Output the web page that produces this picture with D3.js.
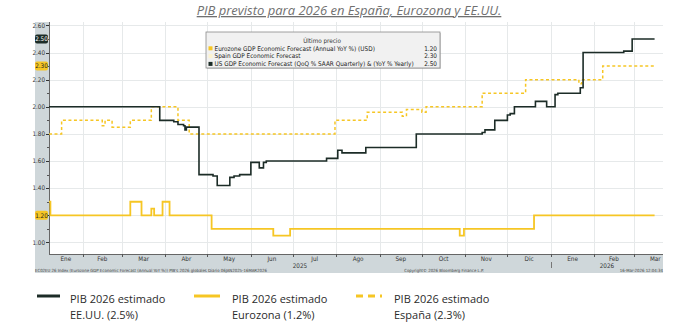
<!DOCTYPE html>
<html>
<head>
<meta charset="utf-8">
<script src="https://cdn.jsdelivr.net/npm/d3@7"></script>
<style>
  body { margin: 0; background: #fff; }
  svg { display: block; }
</style>
</head>
<body>
<div id="chart"></div>
<script>
// Series: [date of change, value] (step series)
const usSeries = [
  ["2025-01-08", 2.00], ["2025-03-28", 1.90], ["2025-04-07", 1.89], ["2025-04-10", 1.87],
  ["2025-04-14", 1.86], ["2025-04-15", 1.83], ["2025-04-16", 1.85], ["2025-04-25", 1.50],
  ["2025-05-05", 1.49], ["2025-05-08", 1.42], ["2025-05-17", 1.48], ["2025-05-20", 1.49],
  ["2025-05-24", 1.50], ["2025-06-01", 1.59], ["2025-06-07", 1.55], ["2025-06-10", 1.59],
  ["2025-06-12", 1.60], ["2025-07-25", 1.62], ["2025-08-02", 1.68], ["2025-08-05", 1.66],
  ["2025-08-22", 1.70], ["2025-09-27", 1.80], ["2025-11-13", 1.81], ["2025-11-15", 1.83],
  ["2025-11-22", 1.90], ["2025-12-01", 1.94], ["2025-12-03", 1.95], ["2025-12-06", 2.00],
  ["2025-12-21", 2.04], ["2025-12-29", 2.00], ["2026-01-04", 2.09], ["2026-01-06", 2.10],
  ["2026-01-22", 2.14], ["2026-01-24", 2.40], ["2026-02-22", 2.41], ["2026-02-28", 2.50],
  ["2026-03-16", 2.50]
];
const euroSeries = [
  ["2025-01-08", 1.30], ["2025-01-09", 1.20], ["2025-03-07", 1.30], ["2025-03-15", 1.20],
  ["2025-03-22", 1.25], ["2025-03-24", 1.20], ["2025-03-30", 1.30], ["2025-04-04", 1.20],
  ["2025-05-04", 1.10], ["2025-06-17", 1.05], ["2025-06-29", 1.10], ["2025-10-28", 1.05],
  ["2025-10-31", 1.10], ["2025-12-20", 1.20], ["2026-03-16", 1.20]
];
const spainSeries = [
  ["2025-01-08", 1.80], ["2025-01-17", 1.90], ["2025-02-15", 1.86], ["2025-02-17", 1.90],
  ["2025-02-22", 1.85], ["2025-03-07", 1.90], ["2025-03-22", 2.00], ["2025-04-10", 1.90],
  ["2025-04-18", 1.80], ["2025-07-31", 1.90], ["2025-08-23", 1.96], ["2025-09-17", 1.93],
  ["2025-09-20", 1.98], ["2025-10-01", 1.96], ["2025-10-04", 2.00], ["2025-11-13", 2.10],
  ["2025-12-14", 2.20], ["2026-01-21", 2.17], ["2026-01-23", 2.20], ["2026-02-07", 2.30],
  ["2026-03-16", 2.30]
];

const yTicks = [1.0, 1.2, 1.4, 1.6, 1.8, 2.0, 2.2, 2.4, 2.6];
const monthNames = ["Ene", "Feb", "Mar", "Abr", "May", "Jun", "Jul", "Ago", "Sep", "Oct", "Nov", "Dic"];
const lastValues = [
  { label: "Eurozone GDP Economic Forecast (Annual YoY %) (USD)", value: "1.20", key: "euro" },
  { label: "Spain GDP Economic Forecast", value: "2.30", key: "spain" },
  { label: "US GDP Economic Forecast (QoQ % SAAR Quarterly) & (YoY % Yearly)", value: "2.50", key: "us" }
];
const axisBadges = [
  { value: 2.50, key: "us" }, { value: 2.30, key: "spain" }, { value: 1.20, key: "euro" }
];
const bottomLegend = [
  { key: "us", lines: ["PIB 2026 estimado", "EE.UU. (2.5%)"] },
  { key: "euro", lines: ["PIB 2026 estimado", "Eurozona (1.2%)"] },
  { key: "spain", lines: ["PIB 2026 estimado", "España (2.3%)"] }
];

const colors = { us: "#1c2c27", euro: "#f6c624", spain: "#f6c624" };
const parse = d3.timeParse("%Y-%m-%d");

const W = 688, H = 334;
const plot = { left: 49, right: 663, top: 22, bottom: 254 };

const svg = d3.select("#chart").append("svg").attr("width", W).attr("height", H);

const x = d3.scaleTime()
  .domain([parse("2025-01-08"), parse("2026-03-22")])
  .range([plot.left, plot.right]);
const y = d3.scaleLinear().domain([0.915, 2.625]).range([plot.bottom, plot.top]);

// Title
svg.append("text")
  .attr("x", 349).attr("y", 15)
  .attr("text-anchor", "middle")
  .style("font-family", "'Open Sans', sans-serif")
  .style("font-style", "italic")
  .style("font-size", "13px")
  .style("fill", "#707070")
  .style("text-decoration", "underline")
  .text("PIB previsto para 2026 en España, Eurozona y EE.UU.");

// Grey axis bands
const band = "#cfd7da";
svg.append("rect").attr("x", 35).attr("y", plot.top).attr("width", plot.left - 35)
  .attr("height", plot.bottom - plot.top).attr("fill", band);
svg.append("rect").attr("x", 35).attr("y", plot.bottom).attr("width", plot.right - 35)
  .attr("height", 19).attr("fill", band);

// Grid
const monthStarts = d3.timeMonth.range(d3.timeMonth.ceil(x.domain()[0]), x.domain()[1]);
svg.append("g").selectAll("line").data(yTicks).join("line")
  .attr("x1", plot.left).attr("x2", plot.right)
  .attr("y1", d => Math.round(y(d)) + 0.5).attr("y2", d => Math.round(y(d)) + 0.5)
  .attr("stroke", "#e6e9ea");
svg.append("g").selectAll("line").data(monthStarts).join("line")
  .attr("x1", d => Math.round(x(d)) + 0.5).attr("x2", d => Math.round(x(d)) + 0.5)
  .attr("y1", plot.top).attr("y2", plot.bottom)
  .attr("stroke", "#e6e9ea");

// Axis lines
svg.append("line").attr("x1", plot.left + 0.5).attr("x2", plot.left + 0.5)
  .attr("y1", plot.top).attr("y2", plot.bottom).attr("stroke", "#666");
svg.append("line").attr("x1", plot.left).attr("x2", plot.right)
  .attr("y1", plot.bottom + 0.5).attr("y2", plot.bottom + 0.5).attr("stroke", "#666");

// Y ticks and labels
const minor = d3.range(1.0, 2.61, 0.1);
svg.append("g").selectAll("line").data(minor).join("line")
  .attr("x1", plot.left - 2).attr("x2", plot.left)
  .attr("y1", d => Math.round(y(d)) + 0.5).attr("y2", d => Math.round(y(d)) + 0.5)
  .attr("stroke", "#555");
svg.append("g").selectAll("line").data(yTicks).join("line")
  .attr("x1", plot.left - 3).attr("x2", plot.left)
  .attr("y1", d => Math.round(y(d)) + 0.5).attr("y2", d => Math.round(y(d)) + 0.5)
  .attr("stroke", "#333");
// tick labels hidden where a value badge sits on top of them
const visibleTicks = yTicks.filter(t => !axisBadges.some(b => Math.abs(y(b.value) - y(t)) < 9));
svg.append("g").selectAll("text").data(visibleTicks).join("text")
  .attr("x", plot.left - 4).attr("y", d => y(d) + 2.3)
  .attr("text-anchor", "end")
  .style("font-family", "'DejaVu Sans Condensed', sans-serif")
  .style("font-size", "6.3px")
  .style("fill", "#333")
  .text(d => d.toFixed(2));

// Badges on y axis for last values
const badge = svg.append("g").selectAll("g").data(axisBadges).join("g");
badge.append("rect")
  .attr("x", 35).attr("y", d => y(d.value) - 4.5)
  .attr("width", 13).attr("height", 9).attr("rx", 2)
  .attr("fill", d => colors[d.key]);
badge.append("text")
  .attr("x", 41.5).attr("y", d => y(d.value) + 2.3)
  .attr("text-anchor", "middle")
  .style("font-family", "'DejaVu Sans Condensed', sans-serif")
  .style("font-size", "6.3px")
  .style("fill", d => d.key === "us" ? "#fff" : "#222")
  .text(d => d.value.toFixed(2));

// X axis: month ticks, labels, years
const xAxisG = svg.append("g");
xAxisG.selectAll("line").data(monthStarts).join("line")
  .attr("x1", d => Math.round(x(d)) + 0.5).attr("x2", d => Math.round(x(d)) + 0.5)
  .attr("y1", plot.bottom).attr("y2", plot.bottom + 3)
  .attr("stroke", "#555");
const monthsAll = d3.timeMonth.range(d3.timeMonth.floor(x.domain()[0]), x.domain()[1]);
xAxisG.selectAll("text").data(monthsAll).join("text")
  .attr("x", d => {
    const s = d < x.domain()[0] ? x.domain()[0] : d;
    return (x(s) + x(d3.timeMonth.offset(d, 1))) / 2;
  })
  .attr("y", plot.bottom + 6.5)
  .attr("text-anchor", "middle")
  .style("font-family", "'DejaVu Sans Condensed', sans-serif")
  .style("font-size", "6.3px")
  .style("fill", "#333")
  .text(d => monthNames[d.getMonth()]);
const years = [parse("2025-01-01"), parse("2026-01-01")];
xAxisG.selectAll("text.year").data(years).join("text")
  .attr("class", "year")
  .attr("x", d => {
    const s = d < x.domain()[0] ? x.domain()[0] : d;
    const e = d3.timeYear.offset(d, 1) > x.domain()[1] ? x.domain()[1] : d3.timeYear.offset(d, 1);
    return (x(s) + x(e)) / 2;
  })
  .attr("y", plot.bottom + 13.5)
  .attr("text-anchor", "middle")
  .style("font-family", "'DejaVu Sans Condensed', sans-serif")
  .style("font-size", "6.3px")
  .style("fill", "#333")
  .text(d => d.getFullYear());
xAxisG.append("line")
  .attr("x1", Math.round(x(years[1])) + 0.5).attr("x2", Math.round(x(years[1])) + 0.5)
  .attr("y1", plot.bottom + 8).attr("y2", plot.bottom + 14)
  .attr("stroke", "#777");

// Footer texts
const footer = svg.append("g")
  .style("font-family", "'DejaVu Sans Condensed', sans-serif")
  .style("font-size", "4.3px")
  .style("fill", "#444");
footer.append("text").attr("x", 35).attr("y", 272)
  .text("EC02EU 26 Index (Eurozone GDP Economic Forecast (Annual YoY %)) PIB's 2026 globales Diario 06JAN2025-16MAR2026");
footer.append("text").attr("x", 444).attr("y", 272).attr("text-anchor", "middle")
  .text("Copyright© 2026 Bloomberg Finance L.P.");
footer.append("text").attr("x", plot.right).attr("y", 272).attr("text-anchor", "end")
  .text("16-Mar-2026 12:04:34");

// Lines
const line = d3.line()
  .x(d => x(parse(d[0])))
  .y(d => y(d[1]))
  .curve(d3.curveStepAfter);

svg.append("path").datum(euroSeries)
  .attr("d", line).attr("fill", "none")
  .attr("stroke", colors.euro).attr("stroke-width", 1.8);
svg.append("path").datum(spainSeries)
  .attr("d", line).attr("fill", "none")
  .attr("stroke", colors.spain).attr("stroke-width", 1.5)
  .attr("stroke-dasharray", "3,2.5");
svg.append("path").datum(usSeries)
  .attr("d", line).attr("fill", "none")
  .attr("stroke", colors.us).attr("stroke-width", 1.6);

// Inner legend box
const lg = svg.append("g");
lg.append("rect").attr("x", 207).attr("y", 33).attr("width", 234).attr("height", 36)
  .attr("fill", "#999").attr("opacity", 0.4);
lg.append("rect").attr("x", 206).attr("y", 32).attr("width", 234).attr("height", 36)
  .attr("fill", "#f1f1f1").attr("stroke", "#8a8a8a").attr("stroke-width", 0.8);
lg.append("text").attr("x", 322).attr("y", 43).attr("text-anchor", "middle")
  .style("font-family", "'DejaVu Sans Condensed', sans-serif")
  .style("font-size", "6.3px").style("fill", "#333")
  .text("Último precio");
const rows = lg.selectAll("g.row").data(lastValues).join("g").attr("class", "row")
  .attr("transform", (d, i) => `translate(0,${50.5 + i * 7.8})`);
rows.append("rect").attr("x", 208.5).attr("y", -4.2).attr("width", 4).attr("height", 4)
  .attr("fill", d => d.key === "spain" ? "#fdf3cf" : colors[d.key]);
rows.append("text").attr("x", 214.5).attr("y", 0)
  .style("font-family", "'DejaVu Sans Condensed', sans-serif")
  .style("font-size", "6.4px").style("fill", "#222")
  .text(d => d.label);
rows.append("text").attr("x", 437).attr("y", 0).attr("text-anchor", "end")
  .style("font-family", "'DejaVu Sans Condensed', sans-serif")
  .style("font-size", "6.4px").style("fill", "#222")
  .text(d => d.value);

// Bottom legend
const bl = svg.append("g").selectAll("g").data(bottomLegend).join("g")
  .attr("transform", (d, i) => `translate(${[37, 194, 356][i]},0)`);
bl.append("line").attr("x1", 0).attr("x2", d => d.key === "us" ? 23 : 26)
  .attr("y1", 296).attr("y2", 296)
  .attr("stroke", d => colors[d.key]).attr("stroke-width", 3)
  .attr("stroke-dasharray", d => d.key === "spain" ? "7,5" : null);
bl.each(function (d) {
  const g = d3.select(this);
  const off = d.key === "us" ? 33 : 38;
  d.lines.forEach((t, j) => {
    g.append("text").attr("x", off).attr("y", 303 + j * 15.5)
      .style("font-family", "'Open Sans', sans-serif")
      .style("font-size", "11px").style("fill", "#2b2b2b")
      .text(t);
  });
});
</script>
</body>
</html>
